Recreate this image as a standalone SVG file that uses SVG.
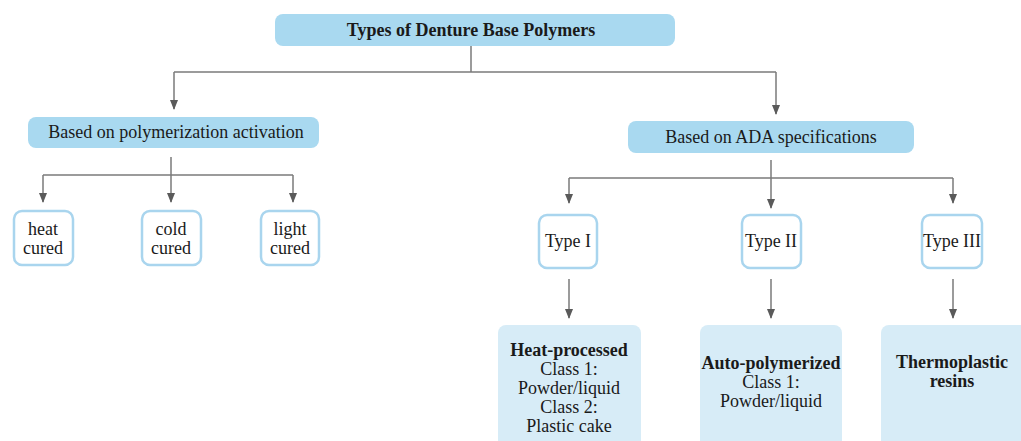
<svg xmlns="http://www.w3.org/2000/svg" width="1021" height="441" viewBox="0 0 1021 441">
<style>
.hdr{fill:#a9d9f0}
.out{fill:#ffffff;stroke:#a9d5ee;stroke-width:2.5}
.res{fill:#d7ecf7}
.t{font-family:"Liberation Serif","DejaVu Serif",serif;font-size:18px;fill:#1a1a1a;text-anchor:middle;dominant-baseline:central}
.b{font-weight:bold}
.ln{fill:none;stroke:#7a7a7a;stroke-width:1.5}
</style>
<defs>
<marker id="ah" markerWidth="10" markerHeight="8" refX="9" refY="4" orient="auto" markerUnits="userSpaceOnUse">
<path d="M0,0 L10,4 L0,8 Z" fill="#5a5a5a"/>
</marker>
</defs>
<rect width="1021" height="441" fill="#ffffff"/>
<g id="connectors">
<path class="ln" d="M471,46 V72"/>
<path class="ln" d="M174,72 H776"/>
<path class="ln" d="M174,72 V109" marker-end="url(#ah)"/>
<path class="ln" d="M776,72 V114" marker-end="url(#ah)"/>
<path class="ln" d="M171,157 V202" marker-end="url(#ah)"/>
<path class="ln" d="M43,175 H293"/>
<path class="ln" d="M43,175 V202" marker-end="url(#ah)"/>
<path class="ln" d="M293,175 V202" marker-end="url(#ah)"/>
<path class="ln" d="M771,160 V208" marker-end="url(#ah)"/>
<path class="ln" d="M569,178 H953"/>
<path class="ln" d="M569,178 V203" marker-end="url(#ah)"/>
<path class="ln" d="M953,178 V203" marker-end="url(#ah)"/>
<path class="ln" d="M569,279 V318" marker-end="url(#ah)"/>
<path class="ln" d="M771,279 V318" marker-end="url(#ah)"/>
<path class="ln" d="M953,279 V318" marker-end="url(#ah)"/>
</g>
<g id="root"><rect class="hdr" x="275" y="14" width="400" height="32" rx="8"/><text class="t b" x="471" y="30">Types of Denture Base Polymers</text></g>
<g id="poly"><rect class="hdr" x="28" y="117" width="291" height="31" rx="8"/><text class="t" x="176" y="132">Based on polymerization activation</text></g>
<g id="ada"><rect class="hdr" x="628" y="121" width="286" height="32" rx="8"/><text class="t" x="771" y="137">Based on ADA specifications</text></g>
<g id="heat"><rect class="out" x="14" y="211" width="59" height="54" rx="8"/><text class="t" x="43" y="229">heat</text><text class="t" x="43" y="248">cured</text></g>
<g id="cold"><rect class="out" x="142" y="211" width="59" height="54" rx="8"/><text class="t" x="171" y="229">cold</text><text class="t" x="171" y="248">cured</text></g>
<g id="light"><rect class="out" x="261" y="211" width="58" height="54" rx="8"/><text class="t" x="290" y="229">light</text><text class="t" x="290" y="248">cured</text></g>
<g id="type1"><rect class="out" x="539" y="215" width="58" height="53" rx="8"/><text class="t" x="568" y="241">Type I</text></g>
<g id="type2"><rect class="out" x="742" y="215" width="59" height="53" rx="8"/><text class="t" x="771" y="241">Type II</text></g>
<g id="type3"><rect class="out" x="922" y="215" width="60" height="53" rx="8"/><text class="t" x="952" y="241">Type III</text></g>
<g id="heatproc"><rect class="res" x="498" y="325" width="143" height="130" rx="8"/><text class="t b" x="569" y="350">Heat-processed</text><text class="t" x="569" y="369">Class 1:</text><text class="t" x="569" y="388">Powder/liquid</text><text class="t" x="569" y="407">Class 2:</text><text class="t" x="569" y="426">Plastic cake</text></g>
<g id="auto"><rect class="res" x="700" y="325" width="142" height="130" rx="8"/><text class="t b" x="771" y="363">Auto-polymerized</text><text class="t" x="771" y="382">Class 1:</text><text class="t" x="771" y="401">Powder/liquid</text></g>
<g id="thermo"><rect class="res" x="881" y="325" width="150" height="130" rx="8"/><text class="t b" x="952" y="362">Thermoplastic</text><text class="t b" x="952" y="381">resins</text></g>
</svg>
